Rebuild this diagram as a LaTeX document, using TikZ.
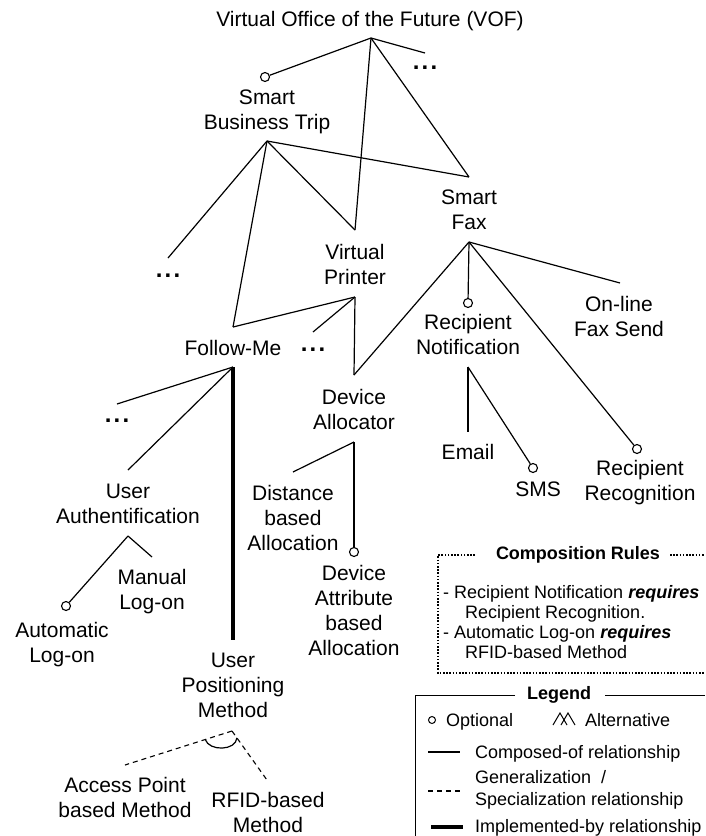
\documentclass[tikz,border=0pt]{standalone}
\usepackage{fontspec}
\setmainfont{Liberation Sans}
\usetikzlibrary{calc}
\begin{document}
\begin{tikzpicture}[x=1pt,y=-1pt,
  feat/.style={anchor=north, align=center, inner sep=0pt, font=\fontsize{21}{25}\selectfont},
  more/.style={inner sep=0pt, font=\fontsize{24}{24}\selectfont\bfseries},
  opt/.style={circle, draw, line width=1.1pt, inner sep=0pt, minimum size=9pt, fill=white},
  rel/.style={line width=1.2pt},
  gen/.style={line width=1.1pt, dash pattern=on 5pt off 4pt},
  impl/.style={line width=4pt},
  note/.style={font=\fontsize{18}{20}\selectfont, inner sep=0pt},
  notehead/.style={font=\fontsize{18}{20}\selectfont\bfseries, inner sep=0pt},
  rulebox/.style={line width=1.8pt, dash pattern=on 1.6pt off 1.6pt},
  ]
\useasboundingbox (0,0) rectangle (705,836);

% ---------- feature labels ----------
\node[feat] (vof)  at (370,11.5)  {Virtual Office of the Future (VOF)};
\node[feat] (sbt)  at (267,89.5)  {Smart\\Business Trip};
\node[feat] (vp)   at (355,244.5) {Virtual\\Printer};
\node[feat] (sf)   at (469,189.5) {Smart\\Fax};
\node[feat] (fm)   at (233,340.5) {Follow-Me};
\node[feat] (da)   at (354,389.5) {Device\\Allocator};
\node[feat] (rn)   at (468,314.5) {Recipient\\Notification};
\node[feat] (olfs) at (619,296.5) {On-line\\Fax Send};
\node[feat] (rr)   at (640,460.5) {Recipient\\Recognition};
\node[feat] (email) at (468,444.5) {Email};
\node[feat] (sms)  at (538,481.5) {SMS};
\node[feat] (ua)   at (128,483.5) {User\\Authentification};
\node[feat] (mlo)  at (152,569.5) {Manual\\Log-on};
\node[feat] (alo)  at (62,622.5)  {Automatic\\Log-on};
\node[feat] (upm)  at (233,652.5) {User\\Positioning\\Method};
\node[feat] (ap)   at (125,777.5) {Access Point\\based Method};
\node[feat] (rfid) at (268,792.5) {RFID-based\\Method};
\node[feat] (dba)  at (293,485.5) {Distance\\based\\Allocation};
\node[feat] (daba) at (354,565.5) {Device\\Attribute\\based\\Allocation};

% elided siblings
\node[more] (m1) at (425,68)  {.\kern2.2pt.\kern2.2pt.};
\node[more] (m2) at (168,276) {.\kern2.2pt.\kern2.2pt.};
\node[more] (m3) at (313,350) {.\kern2.2pt.\kern2.2pt.};
\node[more] (m4) at (117,421) {.\kern2.2pt.\kern2.2pt.};

% ---------- attachment points ----------
\coordinate (vof-b)  at (371,38);
\coordinate (sbt-b)  at (267,141);
\coordinate (vp-t)   at (355,230);
\coordinate (vp-b)   at (355,297);
\coordinate (sf-t)   at (469,177);
\coordinate (sf-b)   at (469,242);
\coordinate (fm-t)   at (233,327);
\coordinate (fm-b)   at (233,367);
\coordinate (da-t)   at (354,375);
\coordinate (da-b)   at (354,442);
\coordinate (rn-b)   at (468,367);
\coordinate (olfs-t) at (620,283);
\coordinate (email-t) at (468,432);
\coordinate (ua-t)   at (128,470);
\coordinate (ua-b)   at (128,536);
\coordinate (mlo-t)  at (152,557);
\coordinate (upm-t)  at (233,640);
\coordinate (upm-b)  at (232,731);
\coordinate (ap-t)   at (125,765);
\coordinate (rfid-t) at (267,780);
\coordinate (dba-t)  at (293,472);
\coordinate (m1-e)   at (425,53);
\coordinate (m2-e)   at (168,258);
\coordinate (m3-e)   at (313,332);
\coordinate (m4-e)   at (117,404);

% optional markers
\node[opt] (sbt-o)  at (265,77)  {};
\node[opt] (rn-o)   at (468,303) {};
\node[opt] (rr-o)   at (637,449) {};
\node[opt] (sms-o)  at (533,468) {};
\node[opt] (alo-o)  at (66,606)  {};
\node[opt] (daba-o) at (354,552) {};

% ---------- composed-of relationships ----------
\draw[rel] (vof-b) -- (sbt-o);
\draw[rel] (vof-b) -- (m1-e);
\draw[rel] (vof-b) -- (vp-t);
\draw[rel] (vof-b) -- (sf-t);

\draw[rel] (sbt-b) -- (m2-e);
\draw[rel] (sbt-b) -- (fm-t);
\draw[rel] (sbt-b) -- (vp-t);
\draw[rel] (sbt-b) -- (sf-t);

\draw[rel] (vp-b) -- (fm-t);
\draw[rel] (vp-b) -- (m3-e);
\draw[rel] (vp-b) -- (da-t);

\draw[rel] (sf-b) -- (da-t);
\draw[rel] (sf-b) -- (rn-o);
\draw[rel] (sf-b) -- (rr-o);
\draw[rel] (sf-b) -- (olfs-t);

\draw[rel] (rn-b) -- (email-t);
\draw[rel] (rn-b) -- (sms-o);

\draw[rel] (fm-b) -- (m4-e);
\draw[rel] (fm-b) -- (ua-t);

\draw[rel] (ua-b) -- (mlo-t);
\draw[rel] (ua-b) -- (alo-o);

\draw[rel] (da-b) -- (dba-t);
\draw[rel] (da-b) -- (daba-o);

% implemented-by
\draw[impl] (fm-b) -- (upm-t);

% generalization / specialization with alternative arc
\draw[gen] (upm-b) -- (ap-t);
\draw[gen] (upm-b) -- (rfid-t);
\draw[rel] ($(upm-b)!0.25!(ap-t)$) .. controls +(4,12) and +(-1,13) .. ($(upm-b)!0.14!(rfid-t)$);

% ---------- composition rules ----------
\draw[rulebox] (475,555) -- (438,555) -- (438,673) -- (705,673);
\draw[rulebox] (670,555) -- (705,555);
\node[notehead] (rules-h) at (578,555) {Composition Rules};
\node[note, anchor=north west, align=left] (rules) at (443,585.5)
  {- Recipient Notification \textbf{\textit{requires}}\\
   \hspace*{22pt}Recipient Recognition.\\
   - Automatic Log-on \textbf{\textit{requires}}\\
   \hspace*{22pt}RFID-based Method};

% ---------- legend ----------
\draw[line width=1pt] (515,695) -- (415,695) -- (415,836);
\draw[line width=1pt] (605,695) -- (705,695);
\node[notehead] (leg-h) at (559,695) {Legend};

\node[circle, draw, line width=1pt, inner sep=0pt, minimum size=7pt] (leg-o) at (432,720) {};
\node[note, anchor=base west] (leg-opt) at (446,726.5) {Optional};

\draw[line width=1pt] (553,725) -- (560,713) -- (567,725);
\draw[line width=1pt] (561,725) -- (568,713) -- (575,725);
\node[note, anchor=base west] (leg-alt) at (585,726.5) {Alternative};

\draw[line width=1.3pt] (428,752) -- (460,752);
\node[note, anchor=base west] (leg-comp) at (475,758.5) {Composed-of relationship};

\draw[gen] (428,791) -- (460,791);
\node[note, anchor=base west] (leg-gen) at (475,783.5) {Generalization\ \ /};
\node[note, anchor=base west] (leg-spec) at (475,805) {Specialization relationship};

\draw[impl] (431,827) -- (463,827);
\node[note, anchor=base west] (leg-impl) at (475,832.5) {Implemented-by relationship};
\end{tikzpicture}
\end{document}
